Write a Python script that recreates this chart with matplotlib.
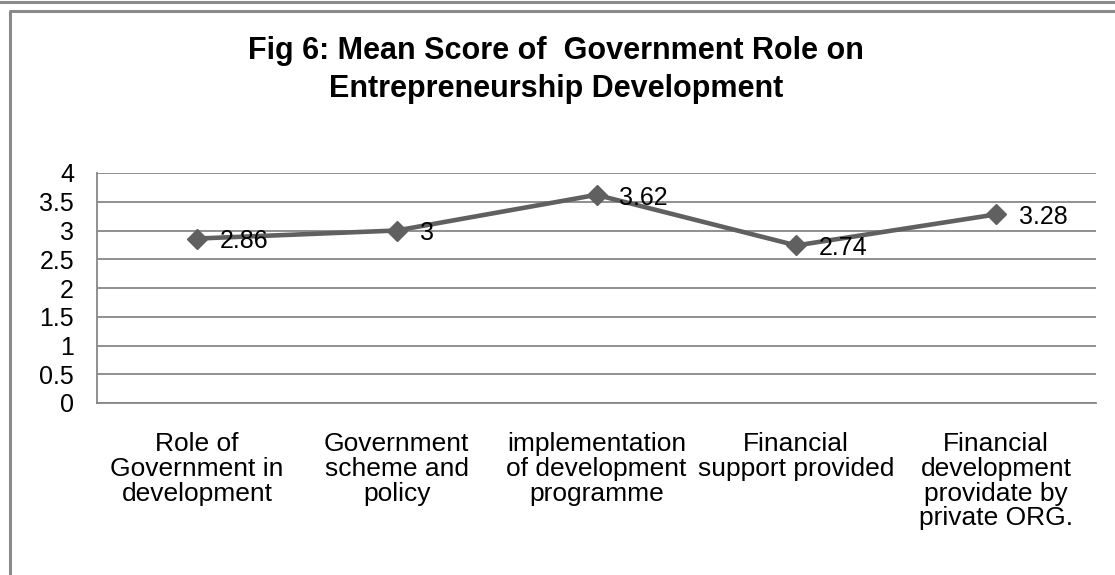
import matplotlib.pyplot as plt
from matplotlib.lines import Line2D

plt.rcParams['font.family'] = ['Liberation Sans', 'DejaVu Sans']

categories = ["Role of\nGovernment in\ndevelopment",
              "Government\nscheme and\npolicy",
              "implementation\nof development\nprogramme",
              "Financial\nsupport provided",
              "Financial\ndevelopment\nprovidate by\nprivate ORG."]
mean_scores = [2.86, 3, 3.62, 2.74, 3.28]
value_labels = ["2.86", "3", "3.62", "2.74", "3.28"]
y_ticks = [0, 0.5, 1, 1.5, 2, 2.5, 3, 3.5, 4]
y_tick_labels = ["0", "0.5", "1", "1.5", "2", "2.5", "3", "3.5", "4"]

W, H = 1115, 575
fig = plt.figure(figsize=(W / 100, H / 100), dpi=100)
grey = "#878787"

# outer frame lines
fig.add_artist(Line2D([0, 1], [1 - 1.5 / H, 1 - 1.5 / H], color="#8a8a8a", lw=2.2))
fig.add_artist(Line2D([9.5 / W, 9.5 / W, 1], [0, 1 - 10.5 / H, 1 - 10.5 / H], color="#8a8a8a", lw=2.2))

fig.text(556 / W, 1 - 51 / H, "Fig 6: Mean Score of  Government Role on",
         ha="center", va="center", fontsize=22, fontweight="bold")
fig.text(556 / W, 1 - 89 / H, "Entrepreneurship Development",
         ha="center", va="center", fontsize=22, fontweight="bold")

ax = fig.add_axes([97 / W, (H - 403) / H, 999 / W, 230 / H])
x = list(range(len(categories)))
ax.plot(x, mean_scores, color="#606060", lw=3.3, marker="D", markersize=10.5,
        markerfacecolor="#606060", markeredgecolor="#606060", zorder=3)
for xi, yi, lab in zip(x, mean_scores, value_labels):
    ax.annotate(lab, (xi, yi), xytext=(16.5, -2), textcoords="offset points",
                ha="left", va="center", fontsize=18, zorder=4)

ax.set_xlim(-0.5, len(categories) - 0.5)
ax.set_ylim(0, 4)
ax.set_yticks(y_ticks)
ax.set_yticklabels(y_tick_labels, fontsize=18)
ax.set_xticks(x)
ax.set_xticklabels(categories, fontsize=19, multialignment="center", linespacing=1.04)
ax.tick_params(axis="y", length=0, pad=16.5)
ax.tick_params(axis="x", length=0, pad=21)
ax.grid(axis="y", color=grey, lw=1.3)
ax.set_axisbelow(True)
for s in ["top", "right"]:
    ax.spines[s].set_visible(False)
for s in ["left", "bottom"]:
    ax.spines[s].set_color(grey)
    ax.spines[s].set_linewidth(1.3)

fig.savefig("out.png", dpi=100)
